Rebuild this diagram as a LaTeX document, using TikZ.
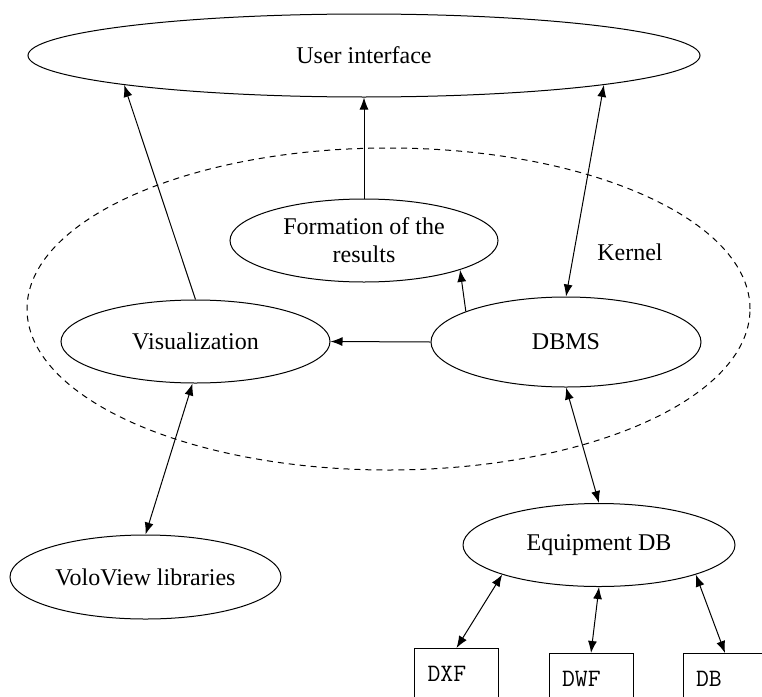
\documentclass[tikz,border=0pt]{standalone}
\usepackage{fontspec}
\setmainfont{Liberation Serif}
\usetikzlibrary{shapes.geometric, arrows.meta, positioning}
\tikzset{
    cloud/.style={
        ellipse,
        draw,
        line width=1pt,
        inner sep=0pt,
        minimum width=270pt,
        minimum height=84pt,
        align=center,
        font=\fontsize{24}{28}\selectfont
    },
    kernel/.style={
        ellipse,
        draw,
        line width=1pt,
        dash pattern=on 6pt off 5pt,
        inner sep=0pt,
        minimum width=723pt,
        minimum height=322pt
    },
    filebox/.style={
        rectangle,
        draw,
        line width=1pt,
        anchor=north,
        minimum height=50pt,
        text width=58pt,
        inner xsep=13pt,
        align=left,
        font=\ttfamily\fontsize{25}{28}\selectfont
    },
    descr/.style={
        font=\fontsize{24}{28}\selectfont
    },
    connector/.style={
        -{Latex[length=12pt,width=9pt]},
        line width=1pt
    },
    both connector/.style={
        connector,
        {Latex[length=12pt,width=9pt]}-{Latex[length=12pt,width=9pt]}
    }
}

\begin{document}
\begin{tikzpicture}[x=1pt,y=-1pt]
\clip (0,0) rectangle (762,696);

\node[kernel] (kern) at (388.5,309) {};
\node[descr] (kernlabel) at (630,252) {Kernel};

\node[cloud, minimum width=672pt, minimum height=83pt] (ui) at (364,55.5) {User interface};
\node[cloud, minimum width=268pt, minimum height=83pt] (form) at (364,240.5) {Formation of the\\ results};
\node[cloud, minimum width=269pt, minimum height=83pt] (vis) at (195.5,341.5) {Visualization};
\node[cloud, minimum width=270pt, minimum height=90pt] (dbms) at (566,342) {DBMS};
\node[cloud, minimum width=271pt, minimum height=84pt] (volo) at (145.5,577) {VoloView libraries};
\node[cloud, minimum width=272pt, minimum height=83pt] (equip) at (599,545) {Equipment DB};

\node[filebox] (dxf) at (456.5,648) {DXF};
\node[filebox] (dwf) at (591,653) {DWF};
\node[filebox] (db) at (725,653) {DB};

\draw[connector] (vis.north) -- (ui.187);
\draw[connector] (form.north) -- (ui.south);
\draw[both connector] (dbms.north) -- (ui.353);
\draw[connector] (dbms.163) -- (form.343);
\draw[connector] (dbms.west) -- (vis.east);
\draw[both connector] (vis.266) -- (volo.north);
\draw[both connector] (dbms.south) -- (equip.north);
\draw[both connector] (equip.197) -- (dxf.north);
\draw[both connector] (equip.south) -- (dwf.north);
\draw[both connector] (equip.343) -- (db.north);

\end{tikzpicture}
\end{document}
